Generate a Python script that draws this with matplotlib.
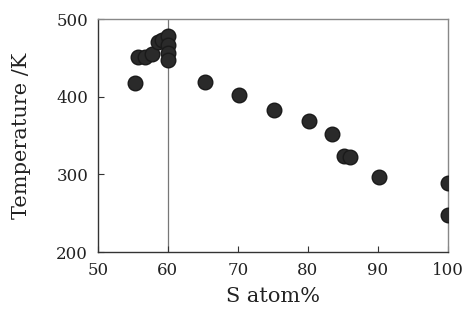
import matplotlib.pyplot as plt

# data
s_atom = [55.3, 55.7, 56.7, 57.7, 58.6, 59.1, 60, 60, 60, 60,
          65.3, 70.1, 75.1, 80.1, 83.4, 85.2, 86, 90.1, 100, 100]
temp_k = [418, 451, 451, 455, 470, 473, 478, 466, 456, 447,
          419, 402, 383, 369, 352, 324, 322, 297, 289, 248]

x_ticks = [50, 60, 70, 80, 90, 100]
y_ticks = [200, 300, 400, 500]

fig = plt.figure(figsize=(4.66, 3.29), dpi=100)
ax = fig.add_axes([0.210, 0.234, 0.751, 0.708])

# reference line at 60 atom%
ax.axvline(60, color='#777777', linewidth=0.9, zorder=1)

ax.plot(s_atom, temp_k, linestyle='none', marker='o', markersize=10.5,
        color='#2a2a2a', markeredgecolor='#1a1a1a', zorder=3)

ax.set_xlim(50, 100)
ax.set_ylim(200, 500)
ax.set_xticks(x_ticks)
ax.set_yticks(y_ticks)
ax.tick_params(direction='in', length=4, width=0.8, colors='#333333',
               labelcolor='#222222', labelsize=12, pad=7)
for lab in ax.get_xticklabels() + ax.get_yticklabels():
    lab.set_family('DejaVu Serif')

ax.spines['left'].set_color('#333333')
ax.spines['bottom'].set_color('#333333')
ax.spines['top'].set_color('#888888')
ax.spines['right'].set_color('#888888')
for sp in ax.spines.values():
    sp.set_linewidth(1.0)

ax.set_xlabel('S atom%', fontsize=15, family='DejaVu Serif', color='#222222', labelpad=6)
ax.set_ylabel('Temperature /K', fontsize=15, family='DejaVu Serif', color='#222222', labelpad=18)

fig.savefig('out.png', dpi=100)
